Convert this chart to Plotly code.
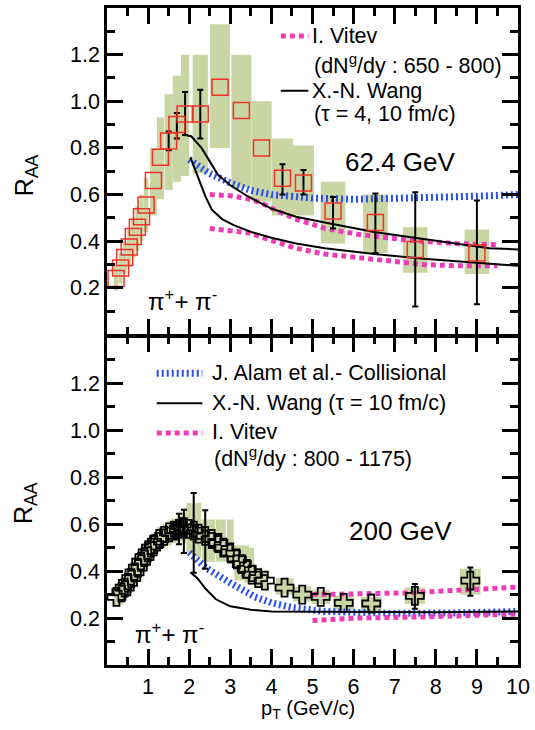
import plotly.graph_objects as go
from plotly.subplots import make_subplots

# ---------------- data: 62.4 GeV (top panel) ----------------
top_pt = [0.22, 0.33, 0.43, 0.54, 0.64, 0.74, 0.84, 0.95, 1.13, 1.3, 1.5, 1.7, 1.9,
          2.27, 2.75, 3.27, 3.76, 4.27, 4.78, 5.5, 6.53, 7.5, 9.0]
top_raa = [0.24, 0.285, 0.33, 0.375, 0.42, 0.46, 0.505, 0.555, 0.66, 0.76, 0.83, 0.9, 0.945,
           0.945, 1.06, 0.96, 0.8, 0.67, 0.65, 0.53, 0.48, 0.365, 0.35]
top_stat_up = [None, None, None, None, None, None, None, None, None, None, 0.04, 0.05, 0.095,
               0.105, None, None, None, 0.06, 0.055, 0.06, 0.125, 0.245, 0.225]
top_stat_dn = [None, None, None, None, None, None, None, None, None, None, 0.04, 0.06, 0.09,
               0.105, None, None, None, 0.07, 0.05, 0.075, 0.13, 0.245, 0.22]
top_sys_lo = [0.19, 0.22, 0.26, 0.29, 0.33, 0.36, 0.40, 0.44, 0.51, 0.58, 0.62, 0.655, 0.68,
              0.69, 0.80, 0.63, 0.57, 0.51, 0.51, 0.39, 0.35, 0.265, 0.26]
top_sys_hi = [0.30, 0.35, 0.40, 0.45, 0.50, 0.55, 0.60, 0.67, 0.80, 0.93, 1.03, 1.11, 1.20,
              1.20, 1.33, 1.20, 1.00, 0.84, 0.81, 0.655, 0.60, 0.46, 0.45]

# models, 62.4 GeV
top_alam_pt = [2.0, 2.5, 3.0, 3.5, 4.0, 5.0, 6.0, 7.0, 8.0, 9.0, 10.0]
top_alam_raa = [0.75, 0.69, 0.65, 0.618, 0.6, 0.585, 0.58, 0.582, 0.587, 0.593, 0.6]
top_wang4_pt = [1.9, 2.05, 2.3, 2.5, 2.7, 3.0, 3.4, 4.0, 4.6, 5.3, 6.5, 7.7, 9.3, 10.0]
top_wang4_raa = [0.855, 0.85, 0.80, 0.74, 0.685, 0.64, 0.595, 0.54, 0.505, 0.48, 0.44, 0.41, 0.37, 0.365]
top_wang10_pt = [2.03, 2.2, 2.4, 2.55, 2.8, 3.07, 3.5, 4.0, 4.6, 5.3, 6.5, 7.7, 8.5, 10.0]
top_wang10_raa = [0.76, 0.68, 0.59, 0.535, 0.495, 0.47, 0.44, 0.415, 0.39, 0.37, 0.345, 0.325, 0.315, 0.295]
top_vitev_hi_pt = [2.5, 3.0, 3.5, 3.8, 4.2, 4.6, 5.3, 6.1, 7.3, 8.5, 9.5]
top_vitev_hi_raa = [0.60, 0.595, 0.58, 0.56, 0.525, 0.495, 0.455, 0.43, 0.405, 0.39, 0.385]
top_vitev_lo_pt = [2.5, 3.0, 3.5, 3.8, 4.2, 4.6, 5.3, 6.5, 7.7, 8.5, 9.5]
top_vitev_lo_raa = [0.455, 0.445, 0.435, 0.415, 0.39, 0.37, 0.345, 0.325, 0.30, 0.295, 0.295]

# ---------------- data: 200 GeV (bottom panel) ----------------
bot_pt = [0.23, 0.35, 0.43, 0.51, 0.59, 0.67, 0.75, 0.83, 0.91, 0.99, 1.07, 1.15, 1.27, 1.39,
          1.51, 1.63, 1.75, 1.87, 1.99, 2.11, 2.23, 2.39, 2.55, 2.71, 2.83, 3.0, 3.16, 3.28,
          3.4, 3.52, 3.68, 3.84, 4.32, 4.75, 5.2, 5.76, 6.43, 7.49, 8.84]
bot_raa = [0.29, 0.31, 0.33, 0.35, 0.37, 0.395, 0.415, 0.44, 0.46, 0.48, 0.50, 0.515, 0.537, 0.55,
           0.565, 0.573, 0.58, 0.587, 0.58, 0.573, 0.56, 0.55, 0.537, 0.52, 0.50, 0.48, 0.45, 0.43,
           0.41, 0.385, 0.37, 0.36, 0.33, 0.30, 0.29, 0.265, 0.262, 0.295, 0.36]
bot_stat_up = [None] * 15 + [0.035, 0.065, 0.075, None, 0.16, None, 0.11, None, None, None, None, None,
                             None, None, None, None, None, None, None, None, None, None, 0.05, 0.055]
bot_stat_dn = [None] * 15 + [0.035, 0.065, 0.11, None, 0.18, None, 0.14, None, None, None, None, None,
                             None, None, None, None, None, None, None, None, None, None, 0.055, 0.065]
bot_sys_lo = [0.25, 0.26, 0.28, 0.30, 0.32, 0.345, 0.365, 0.39, 0.41, 0.43, 0.45, 0.465, 0.485,
              0.50, 0.51, 0.52, 0.525, 0.52, 0.48, 0.47, 0.46, 0.44, 0.44, 0.44, 0.44, 0.43,
              0.36, 0.36, 0.35, 0.34, 0.33, 0.32, 0.30, 0.27, 0.26, 0.235, 0.23, 0.26, 0.30]
bot_sys_hi = [0.33, 0.35, 0.37, 0.40, 0.42, 0.445, 0.465, 0.49, 0.51, 0.53, 0.55, 0.565, 0.59,
              0.60, 0.615, 0.625, 0.635, 0.65, 0.69, 0.69, 0.69, 0.62, 0.62, 0.62, 0.62, 0.62,
              0.51, 0.51, 0.51, 0.50, 0.41, 0.40, 0.37, 0.335, 0.32, 0.295, 0.29, 0.33, 0.41]

bot_alam_pt = [2.0, 2.4, 3.0, 3.6, 4.0, 4.5, 5.3, 6.0, 7.0, 8.5, 10.0]
bot_alam_raa = [0.48, 0.415, 0.35, 0.29, 0.265, 0.245, 0.228, 0.222, 0.22, 0.222, 0.228]
bot_wang_pt = [2.03, 2.2, 2.4, 2.65, 3.0, 3.5, 4.0, 6.0, 8.0, 10.0]
bot_wang_raa = [0.395, 0.37, 0.325, 0.28, 0.25, 0.235, 0.228, 0.225, 0.225, 0.228]
bot_vitev_hi_pt = [5.0, 6.1, 7.3, 8.5, 10.0]
bot_vitev_hi_raa = [0.30, 0.303, 0.307, 0.318, 0.332]
bot_vitev_lo_pt = [5.0, 6.1, 7.7, 10.0]
bot_vitev_lo_raa = [0.19, 0.20, 0.205, 0.217]

x_ticks = [1, 2, 3, 4, 5, 6, 7, 8, 9, 10]
y_ticks = [0.2, 0.4, 0.6, 0.8, 1.0, 1.2]

# ---------------- styles ----------------
FONT = "Liberation Sans, Arial, Helvetica, sans-serif"
GREEN = "#c9d5a3"
RED = "#f0332a"
BLUE = "#2a4ff0"
MAGENTA = "#ee3cb6"


def box_widths(xs, cap):
    w = []
    for i, x in enumerate(xs):
        left = (x - xs[i - 1]) / 2 if i > 0 else cap
        right = (xs[i + 1] - x) / 2 if i < len(xs) - 1 else cap
        if i == 0:
            left = right
        w.append(2 * min(left, right, cap))
    return w


fig = make_subplots(rows=2, cols=1, shared_xaxes=False, vertical_spacing=0.003)

# systematic boxes
for row, xs, lo, hi, cap in [(1, top_pt, top_sys_lo, top_sys_hi, 0.3),
                             (2, bot_pt, bot_sys_lo, bot_sys_hi, 0.25)]:
    fig.add_trace(go.Bar(x=xs, y=[h - l for h, l in zip(hi, lo)], base=lo,
                         width=box_widths(xs, cap), marker=dict(color=GREEN, line=dict(width=0)),
                         showlegend=False, hoverinfo="skip"), row=row, col=1)


def line_style(kind):
    if kind == "alam":
        return dict(color=BLUE, width=7, dash="2px,3px")
    if kind == "vitev":
        return dict(color=MAGENTA, width=5, dash="5px,4px")
    return dict(color="black", width=2)


def model(row, xs, ys, kind):
    fig.add_trace(go.Scatter(x=xs, y=ys, mode="lines", line=line_style(kind),
                             showlegend=False, hoverinfo="skip"), row=row, col=1)


model(1, top_alam_pt, top_alam_raa, "alam")
model(1, top_vitev_hi_pt, top_vitev_hi_raa, "vitev")
model(1, top_vitev_lo_pt, top_vitev_lo_raa, "vitev")
model(1, top_wang4_pt, top_wang4_raa, "wang")
model(1, top_wang10_pt, top_wang10_raa, "wang")
model(2, bot_alam_pt, bot_alam_raa, "alam")
model(2, bot_vitev_hi_pt, bot_vitev_hi_raa, "vitev")
model(2, bot_vitev_lo_pt, bot_vitev_lo_raa, "vitev")
model(2, bot_wang_pt, bot_wang_raa, "wang")


def data_points(row, xs, ys, up, dn, marker):
    # statistical error bars only where the figure shows them
    idx = [i for i in range(len(xs)) if up[i] is not None]
    fig.add_trace(go.Scatter(x=[xs[i] for i in idx], y=[ys[i] for i in idx], mode="markers",
                             marker=dict(size=1, color="rgba(0,0,0,0)"),
                             error_y=dict(type="data", symmetric=False,
                                          array=[up[i] for i in idx], arrayminus=[dn[i] for i in idx],
                                          color="black", thickness=2, width=3),
                             showlegend=False, hoverinfo="skip"), row=row, col=1)
    fig.add_trace(go.Scatter(x=xs, y=ys, mode="markers", marker=marker, showlegend=False), row=row, col=1)


data_points(1, top_pt, top_raa, top_stat_up, top_stat_dn,
            dict(symbol="square-open", size=16, color=RED, line=dict(color=RED, width=1.5)))
data_points(2, bot_pt, bot_raa, bot_stat_up, bot_stat_dn,
            dict(symbol="cross-open", size=15, color="black", line=dict(color="black", width=1.8)))

axis_common = dict(showline=True, linewidth=2.5, linecolor="black", mirror="allticks",
                   ticks="inside", ticklen=16, tickwidth=2.5, tickcolor="black",
                   showgrid=False, zeroline=False,
                   tickfont=dict(family=FONT, size=21.5, color="black"))

for row in (1, 2):
    fig.update_xaxes(range=[0, 10], tickvals=x_ticks, showticklabels=(row == 2),
                     minor=dict(ticks="inside", ticklen=8, tickwidth=2.5, tickcolor="black", dtick=0.5, tick0=0),
                     row=row, col=1, **axis_common)
    fig.update_yaxes(range=[0, 1.4], tickvals=y_ticks, tickformat=".1f",
                     minor=dict(ticks="inside", ticklen=8, tickwidth=2.5, tickcolor="black", dtick=0.1, tick0=0),
                     row=row, col=1, **axis_common)

fig.update_layout(yaxis=dict(domain=[0.503, 1.0]), yaxis2=dict(domain=[0.0, 0.5]))


def txt(text, x, y, size, xref="x", yref="y", xanchor="left", angle=0):
    fig.add_annotation(text=text, x=x, y=y, xref=xref, yref=yref, xanchor=xanchor, yanchor="middle",
                       showarrow=False, textangle=angle, font=dict(family=FONT, size=size, color="black"))


def sample(x0, x1, y, kind, xref, yref):
    fig.add_shape(type="line", x0=x0, x1=x1, y0=y, y1=y, xref=xref, yref=yref, line=line_style(kind))


LEG = 21.5
# top panel labels / legend
txt("62.4 GeV", 7.15, 0.74, 26, xanchor="center")
txt("π<sup>+</sup>+ π<sup>-</sup>", 1.84, 0.15, 24, xanchor="center")
sample(4.23, 4.9, 1.28, "vitev", "x", "y")
txt("I. Vitev", 4.93, 1.28, LEG)
txt("(dN<sup>g</sup>/dy : 650 - 800)", 4.98, 1.158, LEG)
sample(4.23, 4.9, 1.045, "wang", "x", "y")
txt("X.-N. Wang", 4.93, 1.045, LEG)
txt("(τ = 4, 10 fm/c)", 4.98, 0.947, LEG)

# bottom panel labels / legend
txt("200 GeV", 7.13, 0.573, 26, xref="x2", yref="y2", xanchor="center")
txt("π<sup>+</sup>+ π<sup>-</sup>", 1.52, 0.136, 24, xref="x2", yref="y2", xanchor="center")
sample(1.21, 2.32, 1.243, "alam", "x2", "y2")
txt("J. Alam et al.- Collisional", 2.5, 1.243, LEG, xref="x2", yref="y2")
sample(1.21, 2.32, 1.116, "wang", "x2", "y2")
txt("X.-N. Wang (τ = 10 fm/c)", 2.5, 1.116, LEG, xref="x2", yref="y2")
sample(1.21, 2.32, 0.989, "vitev", "x2", "y2")
txt("I. Vitev", 2.5, 0.992, LEG, xref="x2", yref="y2")
txt("(dN<sup>g</sup>/dy : 800 - 1175)", 2.55, 0.885, LEG, xref="x2", yref="y2")

# axis titles
txt("R<sub>AA</sub>", -0.198, 0.745, 25, xref="paper", yref="paper", xanchor="center", angle=-90)
txt("R<sub>AA</sub>", -0.198, 0.246, 25, xref="paper", yref="paper", xanchor="center", angle=-90)
txt("p<sub>T</sub> (GeV/c)", 0.49, -0.067, 20, xref="paper", yref="paper", xanchor="center")

fig.update_layout(width=535, height=730, margin=dict(l=107, r=14, t=5, b=65),
                  paper_bgcolor="white", plot_bgcolor="white", barmode="overlay",
                  showlegend=False, font=dict(family=FONT, color="black"))

fig.write_html("out.html", config={"displayModeBar": False},
               post_script="document.body.style.margin='0';document.body.style.overflow='hidden';")
